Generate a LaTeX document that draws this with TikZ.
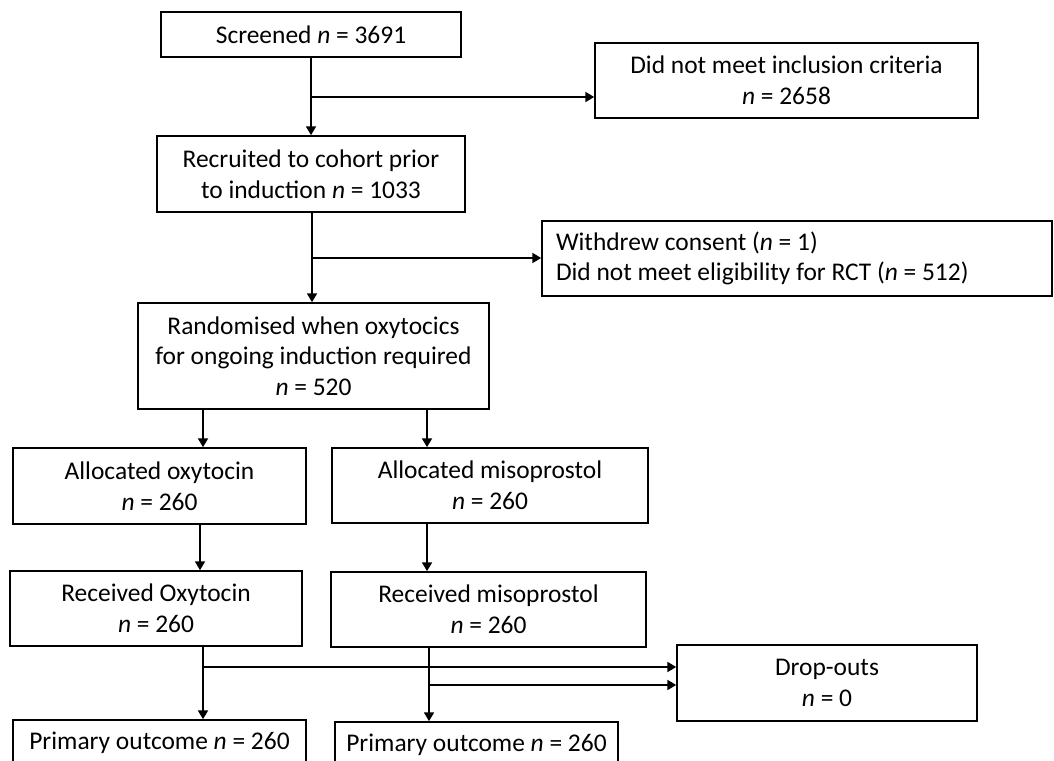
\documentclass[tikz,border=0pt]{standalone}
\usepackage{fontspec}
\setmainfont{Carlito}
\usetikzlibrary{arrows.meta, calc}

\begin{document}
\begin{tikzpicture}[
  x = 0.025cm,
  y = -0.025cm,
  box/.style={draw, line width=1.2pt, inner sep=0pt, align=center, font=\fontsize{18.1}{21.8}\selectfont},
  boxsize/.style 2 args={minimum width=#1*0.025cm, minimum height=#2*0.025cm},
  flow/.style={line width=1.2pt, -{Triangle[length=0.22cm, width=0.25cm]}}
]
%general params
\def\n{\textit{n}}
\useasboundingbox[fill=white] (0,0) rectangle (1054,761);
\clip (0,0) rectangle (1054,761);

%screening and cohort
\node[box, boxsize={300}{45}] (screened) at (311,34.5) {Screened \n{} = 3691};
\node[box, boxsize={383}{75}] (noincl) at (786.5,80.5) {Did not meet inclusion criteria\\\n{} = 2658};
\node[box, boxsize={308}{76}] (recruited) at (311,174) {Recruited to cohort prior\\to induction \n{} = 1033};
\node[box, boxsize={510}{75}, inner xsep=14*0.025cm, text width=482*0.025cm, align=flush left] (withdrew) at (797,258.5)
      {Withdrew consent (\n{} = 1)\\Did not meet eligibility for RCT (\n{} = 512)};
\node[box, boxsize={351}{106}] (rand) at (313.5,356) {Randomised when oxytocics\\for ongoing induction required\\\n{} = 520};

%trial arms
\node[box, boxsize={293}{76}] (alloxy) at (159.5,486) {Allocated oxytocin\\\n{} = 260};
\node[box, boxsize={316}{75}] (allmiso) at (490,485.5) {Allocated misoprostol\\\n{} = 260};
\node[box, boxsize={292}{75}] (recoxy) at (156,608.5) {Received Oxytocin\\\n{} = 260};
\node[box, boxsize={315}{75}] (recmiso) at (488.5,609.5) {Received misoprostol\\\n{} = 260};
\node[box, boxsize={300}{76}] (drop) at (827,683) {Drop-outs\\\n{} = 0};
\node[box, boxsize={293}{46}] (primoxy) at (159.5,743) {Primary outcome \n{} = 260};
\node[box, boxsize={283}{46}] (primmiso) at (476.5,745) {Primary outcome \n{} = 260};

%connectors top
\coordinate (b1) at (311,97);
\coordinate (b2) at (312,258);
\draw[flow] (screened) -- (recruited);
\draw[flow] (b1) -- (b1 -| noincl.west);
\draw[flow] (b2 |- recruited.south) -- (b2 |- rand.north);
\draw[flow] (b2) -- (b2 -| withdrew.west);

%connectors arms
\coordinate (c1) at (203,667);
\coordinate (c2) at (427,685);
\coordinate (c3) at (200,0);
\coordinate (c4) at (429,685);
\draw[flow] (c1 |- rand.south) -- (c1 |- alloxy.north);
\draw[flow] (c2 |- rand.south) -- (c2 |- allmiso.north);
\draw[flow] (c3 |- alloxy.south) -- (c3 |- recoxy.north);
\draw[flow] (c2 |- allmiso.south) -- (c2 |- recmiso.north);
\draw[flow] (c1 |- recoxy.south) -- (c1 |- primoxy.north);
\draw[flow] (c4 |- recmiso.south) -- (c4 |- primmiso.north);
\draw[flow] (c1) -- (c1 -| drop.west);
\draw[flow] (c4) -- (c4 -| drop.west);

\end{tikzpicture}
\end{document}
